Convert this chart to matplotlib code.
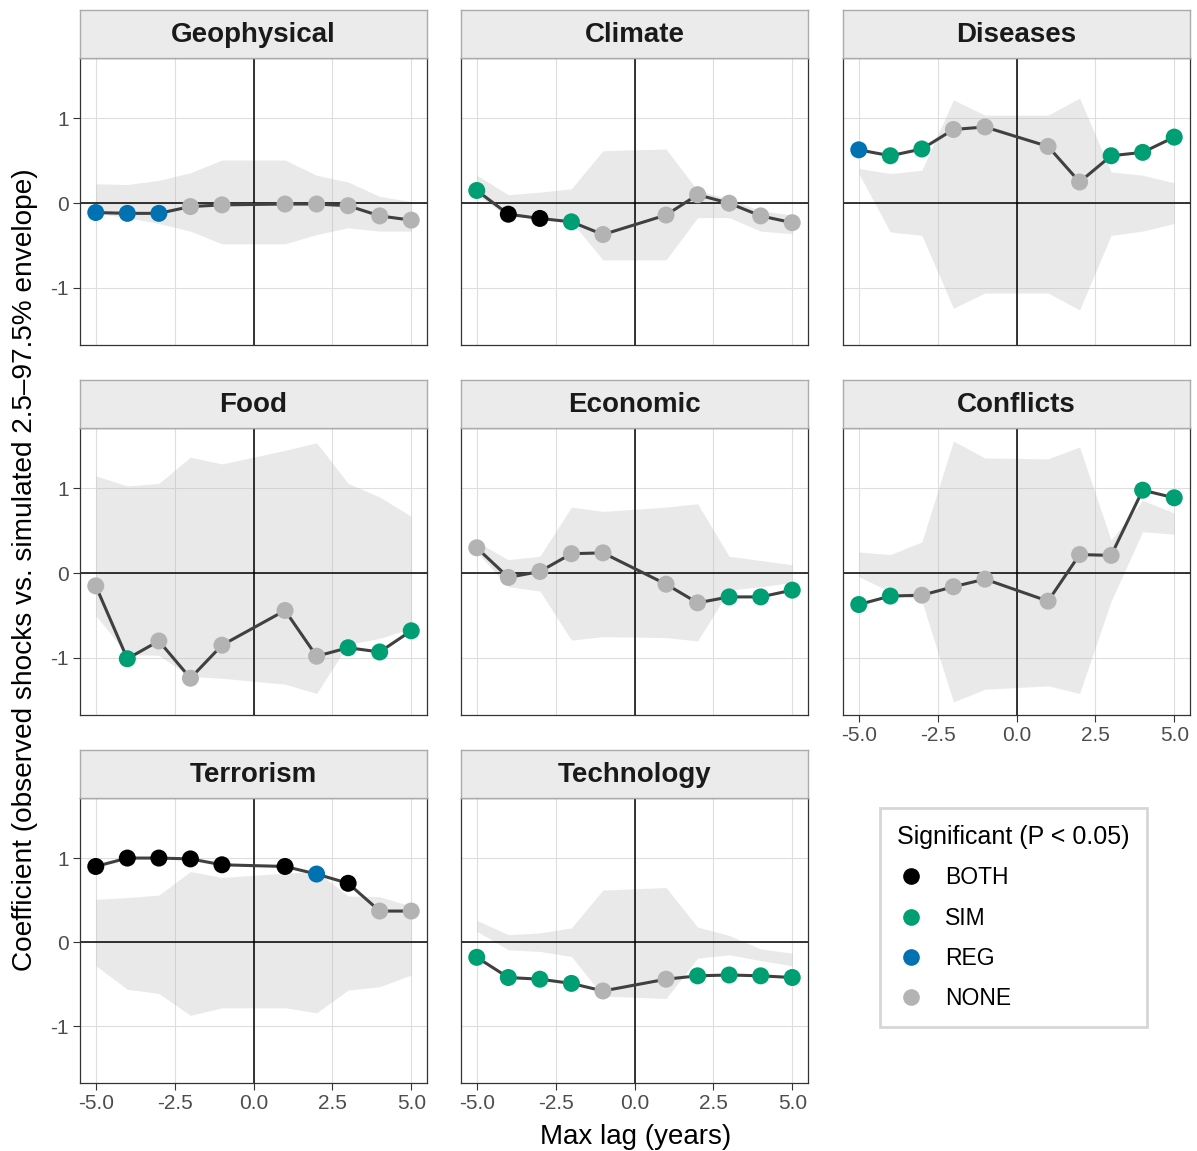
import matplotlib

matplotlib.use("Agg")
import matplotlib.pyplot as plt
from matplotlib.lines import Line2D

plt.rcParams["font.family"] = ["Liberation Sans", "DejaVu Sans"]

W, H = 1197, 1151

lags = [-5, -4, -3, -2, -1, 1, 2, 3, 4, 5]
panels = ["Geophysical", "Climate", "Diseases", "Food", "Economic",
          "Conflicts", "Terrorism", "Technology"]

coefs = {
    "Geophysical": [-0.11, -0.12, -0.12, -0.04, -0.02, -0.01, -0.01, -0.03, -0.15, -0.20],
    "Climate": [0.15, -0.13, -0.18, -0.22, -0.37, -0.14, 0.10, 0.00, -0.15, -0.23],
    "Diseases": [0.63, 0.56, 0.64, 0.87, 0.90, 0.67, 0.25, 0.56, 0.60, 0.78],
    "Food": [-0.15, -1.01, -0.80, -1.24, -0.85, -0.44, -0.98, -0.88, -0.93, -0.68],
    "Economic": [0.30, -0.05, 0.02, 0.23, 0.24, -0.13, -0.35, -0.28, -0.28, -0.20],
    "Conflicts": [-0.37, -0.27, -0.26, -0.16, -0.07, -0.33, 0.22, 0.21, 0.98, 0.89],
    "Terrorism": [0.90, 1.00, 1.00, 0.99, 0.92, 0.90, 0.81, 0.70, 0.37, 0.37],
    "Technology": [-0.18, -0.42, -0.44, -0.49, -0.58, -0.44, -0.40, -0.39, -0.40, -0.42],
}

sigs = {
    "Geophysical": ["REG", "REG", "REG", "NONE", "NONE", "NONE", "NONE", "NONE", "NONE", "NONE"],
    "Climate": ["SIM", "BOTH", "BOTH", "SIM", "NONE", "NONE", "NONE", "NONE", "NONE", "NONE"],
    "Diseases": ["REG", "SIM", "SIM", "NONE", "NONE", "NONE", "NONE", "SIM", "SIM", "SIM"],
    "Food": ["NONE", "SIM", "NONE", "NONE", "NONE", "NONE", "NONE", "SIM", "SIM", "SIM"],
    "Economic": ["NONE", "NONE", "NONE", "NONE", "NONE", "NONE", "NONE", "SIM", "SIM", "SIM"],
    "Conflicts": ["SIM", "SIM", "NONE", "NONE", "NONE", "NONE", "NONE", "NONE", "SIM", "SIM"],
    "Terrorism": ["BOTH", "BOTH", "BOTH", "BOTH", "BOTH", "BOTH", "REG", "BOTH", "NONE", "NONE"],
    "Technology": ["SIM", "SIM", "SIM", "SIM", "NONE", "NONE", "SIM", "SIM", "SIM", "SIM"],
}

env_hi = {
    "Geophysical": [0.23, 0.22, 0.27, 0.36, 0.51, 0.51, 0.33, 0.25, 0.08, 0.02],
    "Climate": [0.33, 0.10, 0.13, 0.17, 0.62, 0.64, 0.15, 0.05, -0.09, -0.14],
    "Diseases": [0.41, 0.35, 0.39, 1.22, 1.04, 1.04, 1.24, 0.37, 0.33, 0.24],
    "Food": [1.15, 1.03, 1.06, 1.37, 1.29, 1.45, 1.54, 1.06, 0.90, 0.67],
    "Economic": [0.37, 0.16, 0.20, 0.78, 0.73, 0.78, 0.82, 0.20, 0.15, 0.10],
    "Conflicts": [0.25, 0.22, 0.37, 1.56, 1.36, 1.35, 1.49, 0.39, 0.86, 0.71],
    "Terrorism": [0.51, 0.53, 0.56, 0.84, 0.77, 0.82, 0.84, 0.55, 0.54, 0.43],
    "Technology": [0.26, 0.09, 0.11, 0.17, 0.62, 0.65, 0.18, 0.08, -0.08, -0.13],
}

env_lo = {
    "Geophysical": [-0.12, -0.17, -0.24, -0.33, -0.48, -0.48, -0.37, -0.29, -0.33, -0.33],
    "Climate": [0.10, -0.16, -0.18, -0.22, -0.67, -0.67, -0.17, -0.17, -0.33, -0.36],
    "Diseases": [0.35, -0.34, -0.38, -1.24, -1.06, -1.06, -1.26, -0.38, -0.33, -0.24],
    "Food": [-0.50, -0.96, -0.97, -1.22, -1.24, -1.31, -1.42, -0.84, -0.77, -0.65],
    "Economic": [0.25, -0.16, -0.21, -0.79, -0.75, -0.76, -0.80, -0.20, -0.16, -0.11],
    "Conflicts": [-0.04, -0.22, -0.33, -1.52, -1.37, -1.33, -1.42, -0.33, 0.49, 0.46],
    "Terrorism": [-0.28, -0.56, -0.61, -0.87, -0.78, -0.78, -0.84, -0.57, -0.53, -0.39],
    "Technology": [0.13, -0.09, -0.11, -0.17, -0.64, -0.67, -0.19, -0.15, -0.22, -0.28],
}

sig_levels = ["BOTH", "SIM", "REG", "NONE"]
sig_colors = {"BOTH": "#000000", "SIM": "#009E73", "REG": "#0072B2", "NONE": "#B3B3B3"}

# shared y range, ggplot-style 5% expansion
all_vals = [v for p in panels for v in coefs[p] + env_hi[p] + env_lo[p]]
ymin, ymax = min(all_vals), max(all_vals)
pad = 0.05 * (ymax - ymin)
ylim = (ymin - pad, ymax + pad)

col_x = [(80, 427), (461, 808), (843, 1190)]
row_y = [(10, 58, 345), (380, 428, 715), (750, 798, 1083)]


def px_rect(x0, y0, x1, y1):
    return [x0 / W, 1 - y1 / H, (x1 - x0) / W, (y1 - y0) / H]


fig = plt.figure(figsize=(W / 100, H / 100), dpi=100)

for i, name in enumerate(panels):
    r, c = divmod(i, 3)
    x0, x1 = col_x[c]
    s0, p0, p1 = row_y[r]

    ax = fig.add_axes(px_rect(x0, p0, x1, p1))
    ax.set_xlim(-5.5, 5.5)
    ax.set_ylim(*ylim)
    ax.set_xticks([-5, -2.5, 0, 2.5, 5])
    ax.set_yticks([-1, 0, 1])
    ax.grid(True, color="#DEDEDE", linewidth=0.8)
    ax.set_axisbelow(True)
    for sp in ax.spines.values():
        sp.set_color("#333333")
        sp.set_linewidth(0.9)

    ax.fill_between(lags, env_lo[name], env_hi[name], color="#B3B3B3",
                    alpha=0.28, linewidth=0, zorder=1)
    ax.axhline(0, color="black", linewidth=1.1, zorder=2)
    ax.axvline(0, color="black", linewidth=1.1, zorder=2)
    ax.plot(lags, coefs[name], color="#404040", linewidth=2.2, zorder=3)
    ax.scatter(lags, coefs[name], s=150, c=[sig_colors[s] for s in sigs[name]],
               linewidths=0, zorder=4)

    show_x = r == 2 or (r == 1 and c == 2)
    show_y = c == 0
    ax.tick_params(axis="x", bottom=show_x, labelbottom=show_x, length=5,
                   color="#333333", labelsize=15, labelcolor="#4D4D4D", pad=3)
    ax.tick_params(axis="y", left=show_y, labelleft=show_y, length=5,
                   color="#333333", labelsize=15, labelcolor="#4D4D4D", pad=3)
    if show_x:
        ax.set_xticklabels(["-5.0", "-2.5", "0.0", "2.5", "5.0"])
    if show_y:
        ax.set_yticklabels(["-1", "0", "1"])

    sax = fig.add_axes(px_rect(x0, s0, x1, p0))
    sax.set_xticks([])
    sax.set_yticks([])
    sax.set_facecolor("#EBEBEB")
    for sp in sax.spines.values():
        sp.set_color("#ABABAB")
        sp.set_linewidth(1.0)
    sax.text(0.5, 0.47, name, ha="center", va="center", fontsize=20,
             fontweight="bold", color="#1A1A1A", transform=sax.transAxes)

fig.text(636 / W, 1 - 1137 / H, "Max lag (years)", ha="center", va="center",
         fontsize=20, color="black")
fig.text(25 / W, 1 - 570 / H,
         "Coefficient (observed shocks vs. simulated 2.5\u201397.5% envelope)",
         ha="center", va="center", rotation=90, fontsize=20.2, color="black")

handles = [Line2D([], [], linestyle="none", marker="o", markersize=12,
                  markerfacecolor=sig_colors[s], markeredgewidth=0)
           for s in sig_levels]
leg = fig.legend(handles, sig_levels, title="Significant (P < 0.05)",
                 loc="upper left", bbox_to_anchor=(880 / W, 1 - 808 / H),
                 borderaxespad=0, fontsize=16.5, title_fontsize=18,
                 frameon=True, fancybox=False, labelspacing=0.75,
                 handletextpad=0.9, borderpad=0.75, handlelength=1.2)
leg.get_frame().set_edgecolor("#CCCCCC")
leg.get_frame().set_linewidth(2)
leg._legend_box.align = "left"

fig.savefig("out.png", dpi=100)
